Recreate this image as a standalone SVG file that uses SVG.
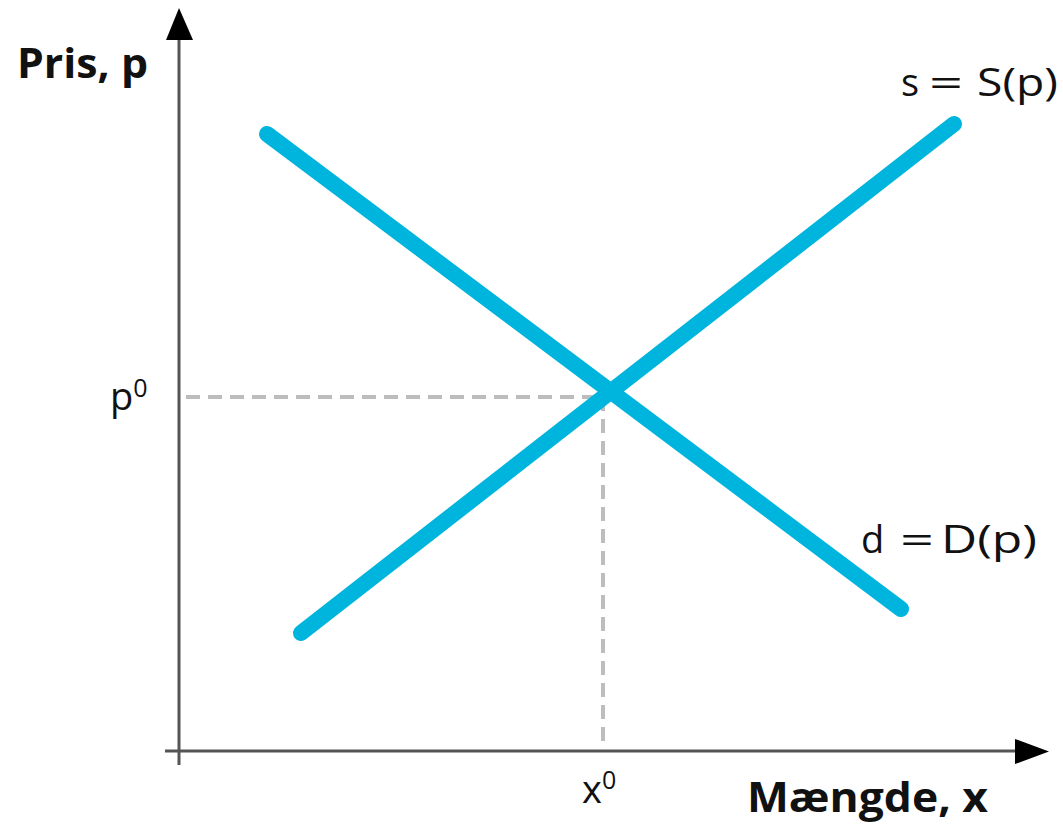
<svg xmlns="http://www.w3.org/2000/svg" width="1063" height="825" viewBox="0 0 1063 825">
<style>
.axis{stroke:#555;stroke-width:3;fill:none}
.curve{stroke:#00b5dd;stroke-width:16;stroke-linecap:round;fill:none}
.guide{stroke:#bdbdbd;stroke-width:4;stroke-dasharray:14 8;fill:none}
.lbl{font-family:"Open Sans","Liberation Sans",sans-serif;font-size:38px;fill:#111}
.bold{font-weight:bold;font-size:41px}
.sup{font-size:25px}
</style>
<rect width="1063" height="825" fill="#fff"/>
<g id="connectors">
<line class="guide" x1="186" y1="397" x2="603" y2="397"/>
<line class="guide" x1="603" y1="397" x2="603" y2="748"/>
<line class="axis" x1="179" y1="765" x2="179" y2="36"/>
<polygon points="179,8 166,40 193,40" fill="#000"/>
<line class="axis" x1="165" y1="751" x2="1020" y2="751"/>
<polygon points="1049,751.5 1015,739 1015,764" fill="#000"/>
</g>
<g id="demand"><line class="curve" x1="267" y1="134" x2="901" y2="609"/></g>
<g id="supply"><line class="curve" x1="301" y1="633" x2="954" y2="124"/></g>
<g id="labels">
<text id="ylabel" class="lbl bold" x="17" y="78" textLength="131" lengthAdjust="spacingAndGlyphs">Pris, p</text>
<g id="slabel">
<text class="lbl" x="901" y="96">s</text>
<text class="lbl" x="929" y="96" textLength="34" lengthAdjust="spacingAndGlyphs">=</text>
<text class="lbl" x="977" y="96" textLength="81" lengthAdjust="spacingAndGlyphs">S(p)</text>
</g>
<g id="dlabel">
<text class="lbl" x="861" y="553">d</text>
<text class="lbl" x="900" y="553" textLength="34" lengthAdjust="spacingAndGlyphs">=</text>
<text class="lbl" x="941" y="553" textLength="96" lengthAdjust="spacingAndGlyphs">D(p)</text>
</g>
<text id="p0" class="lbl" x="110" y="410">p<tspan class="sup" dy="-13">0</tspan></text>
<text id="x0" class="lbl" x="582" y="803">x<tspan class="sup" dy="-14">0</tspan></text>
<text id="xlabel" class="lbl bold" x="747" y="812" textLength="241" lengthAdjust="spacingAndGlyphs">Mængde, x</text>
</g>
</svg>
